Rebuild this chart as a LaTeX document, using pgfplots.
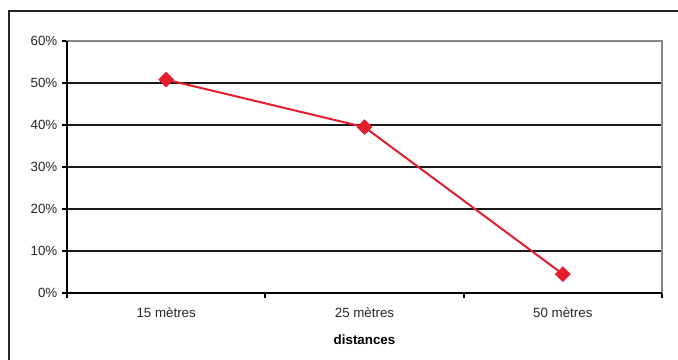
\documentclass[border=0pt]{standalone}
\usepackage{fontspec}
\setmainfont{Liberation Sans}
\usepackage{pgfplots}
\pgfplotsset{compat=1.18}
\definecolor{linered}{RGB}{228,30,42}
\definecolor{framegray}{RGB}{128,136,136}
\begin{document}
\begin{tikzpicture}[x=0.75pt,y=0.75pt]
\useasboundingbox (0,0) rectangle (678,360);
% outer chart frame
\draw[line width=1pt, black!85] (9,-5) -- (9,349) -- (690,349);
\begin{axis}[
  at={(50.25pt,50.25pt)}, anchor=south west,
  scale only axis, width=446.25pt, height=189pt,
  xmin=0.5, xmax=3.5, ymin=0, ymax=60,
  xtick={1,2,3},
  xticklabels={15 mètres,25 mètres,50 mètres},
  minor xtick={0.5,1.5,2.5,3.5},
  ytick={0,10,...,60},
  yticklabel={\pgfmathprintnumber{\tick}\%},
  /pgf/number format/assume math mode=true,
  ymajorgrids,
  grid style={black!90, line width=1.3pt},
  tick pos=left,
  tick align=outside,
  major tick length=3.75pt,
  minor tick length=3.75pt,
  major x tick style={draw=none},
  minor x tick style={black, line width=1.3pt},
  ytick style={black, line width=1.3pt},
  axis line style={framegray, line width=1.4pt},
  ticklabel style={font=\fontsize{10}{12}\selectfont, text=black!85},
  xticklabel style={yshift=-4pt},
  xlabel={distances},
  xlabel style={font=\fontsize{10}{12}\selectfont\bfseries, yshift=-6pt},
  clip=false,
]
\draw[black, line width=1.4pt] (rel axis cs:0,1) -- (rel axis cs:0,0) -- (rel axis cs:1,0);
\addplot[linered, line width=1.5pt, mark=square*, mark size=3.9pt,
  mark options={fill=linered, draw=linered, line width=0.5pt, rotate=45}]
  coordinates {(1,50.8) (2,39.5) (3,4.5)};
\end{axis}
\end{tikzpicture}
\end{document}
